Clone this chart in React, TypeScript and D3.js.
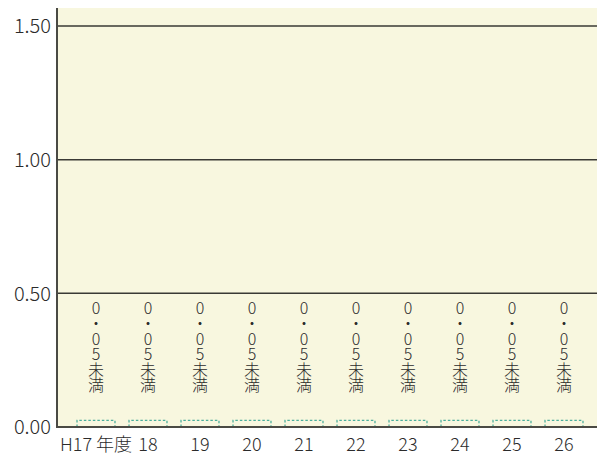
import React from "react";
import * as d3 from "d3";

const categories = ["H17 年度", "18", "19", "20", "21", "22", "23", "24", "25", "26"];
const values = [0.025, 0.025, 0.025, 0.025, 0.025, 0.025, 0.025, 0.025, 0.025, 0.025];
const valueLabels = ["0", "・", "0", "5", "未", "満"];
const yTicks = [0, 0.5, 1.0, 1.5];

export default function App() {
  const W = 597, H = 457;
  const left = 57, right = 597, top = 8, bottom = 427;
  const y = d3.scaleLinear().domain([0, 1.5]).range([bottom, 26]);
  const x = d3.scaleBand<string>().domain(categories).range([70, 590]).paddingInner(0.27).paddingOuter(0.135);
  const font = "'Noto Sans CJK JP', 'Noto Sans', sans-serif";
  return (
    <svg width={W} height={H} style={{ position: "absolute", left: 0, top: 0, background: "#fff" }}>
      <rect x={left} y={top} width={right - left} height={bottom - top} fill="#f8f7df" />
      {yTicks.filter(t => t > 0).map(t => (
        <line key={t} x1={left} x2={right} y1={y(t)} y2={y(t)} stroke="#3a3a35" strokeWidth={1.5} />
      ))}
      {yTicks.map(t => (
        <text key={"l" + t} x={51} y={y(t)} dy="0.36em" textAnchor="end" fontSize={20} fill="#2b2b2b" fontFamily={font} fontWeight={300}>
          {d3.format(".2f")(t)}
        </text>
      ))}
      {categories.map((c, i) => {
        const bx = x(c)!;
        const bw = x.bandwidth();
        const yt = y(values[i]);
        const cx = bx + bw / 2;
        return (
          <g key={c}>
            <path d={`M${bx},${bottom} V${yt} H${bx + bw} V${bottom}`} fill="none" stroke="#4cae9c" strokeWidth={1.3} strokeDasharray="2.5,2" />
            {valueLabels.map((ch, j) => (
              <text key={j} x={cx} y={308 + j * 15.5} dy="0.36em" textAnchor="middle" fontSize={16} fill="#2b2b2b" fontFamily={font} fontWeight={300}>
                {ch}
              </text>
            ))}
            <text x={cx} y={445} dy="0.36em" textAnchor="middle" fontSize={18} fill="#2b2b2b" fontFamily={font} fontWeight={300}>
              {c}
            </text>
          </g>
        );
      })}
      <line x1={left} x2={left} y1={top} y2={bottom + 1} stroke="#4a4a44" strokeWidth={2} />
      <line x1={left} x2={right} y1={bottom} y2={bottom} stroke="#4a4a44" strokeWidth={2} />
    </svg>
  );
}
